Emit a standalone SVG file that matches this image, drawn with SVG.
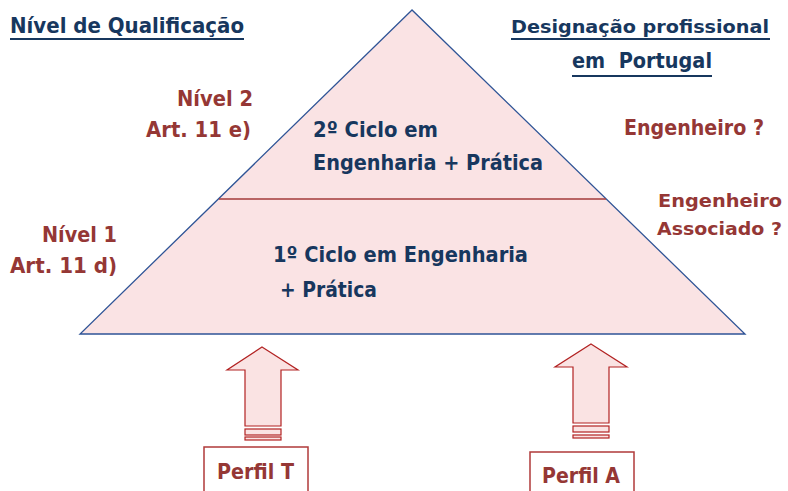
<svg xmlns="http://www.w3.org/2000/svg" width="788" height="491" viewBox="0 0 788 491">
<style>
text{font-family:"DejaVu Sans","Liberation Sans",sans-serif;font-weight:bold;font-size:21px}
.b{fill:#17375E}
.r{fill:#953735}
.s{font-size:18.5px}
.ul{stroke:#17375E;stroke-width:2}
.arr{fill:#FAE3E3;stroke:#B22222;stroke-width:1.2}
.box{fill:#FFFFFF;stroke:#B03A3A;stroke-width:1.5}
</style>
<rect width="788" height="491" fill="#FFFFFF"/>
<g id="pyramid">
<polygon points="412,10 80,334 745,334" fill="#FAE3E4" stroke="#2F5496" stroke-width="1.3"/>
<line x1="219" y1="199" x2="606" y2="199" stroke="#A33A3A" stroke-width="1.3"/>
<text class="b" x="313" y="137" textLength="125" lengthAdjust="spacingAndGlyphs">2º Ciclo em</text>
<text class="b" x="313" y="170" textLength="230" lengthAdjust="spacingAndGlyphs">Engenharia + Prática</text>
<text class="b" x="273" y="262" textLength="255" lengthAdjust="spacingAndGlyphs">1º Ciclo em Engenharia</text>
<text class="b" x="280" y="297" textLength="97" lengthAdjust="spacingAndGlyphs">+ Prática</text>
</g>
<g id="header-left">
<text class="b" x="10" y="33" textLength="234" lengthAdjust="spacingAndGlyphs">Nível de Qualificação</text>
<line class="ul" x1="10" y1="39" x2="244" y2="39"/>
</g>
<g id="header-right">
<text class="b s" x="511" y="33" textLength="258" lengthAdjust="spacingAndGlyphs">Designação profissional</text>
<line class="ul" x1="511" y1="39" x2="770" y2="39"/>
<text class="b" x="572" y="68" textLength="140" lengthAdjust="spacingAndGlyphs" xml:space="preserve" style="white-space:pre">em  Portugal</text>
<line class="ul" x1="572" y1="76" x2="712" y2="76"/>
</g>
<g id="nivel2">
<text class="r" x="177" y="106" textLength="76" lengthAdjust="spacingAndGlyphs">Nível 2</text>
<text class="r" x="146" y="137" textLength="105" lengthAdjust="spacingAndGlyphs">Art. 11 e)</text>
</g>
<g id="nivel1">
<text class="r" x="42" y="242" textLength="75" lengthAdjust="spacingAndGlyphs">Nível 1</text>
<text class="r" x="10" y="273" textLength="107" lengthAdjust="spacingAndGlyphs">Art. 11 d)</text>
</g>
<g id="engenheiro">
<text class="r" x="624" y="135" textLength="140" lengthAdjust="spacingAndGlyphs">Engenheiro ?</text>
</g>
<g id="engenheiro-associado">
<text class="r s" x="658" y="207" textLength="124" lengthAdjust="spacingAndGlyphs">Engenheiro</text>
<text class="r s" x="657" y="235" textLength="125" lengthAdjust="spacingAndGlyphs">Associado ?</text>
</g>
<g id="connectors">
<polygon class="arr" points="262,347 298,370 281,370 281,426 245,426 245,370 227,370"/>
<rect class="arr" x="245" y="429" width="36" height="6"/>
<rect class="arr" x="245" y="437" width="36" height="3"/>
<polygon class="arr" points="591,344 627,367 609,367 609,423 573,423 573,367 555,367"/>
<rect class="arr" x="573" y="426" width="36" height="6"/>
<rect class="arr" x="573" y="435" width="36" height="3"/>
</g>
<g id="perfil-t">
<rect class="box" x="204" y="447" width="104" height="50"/>
<text class="r" x="217" y="479" textLength="77" lengthAdjust="spacingAndGlyphs">Perfil T</text>
</g>
<g id="perfil-a">
<rect class="box" x="530" y="452" width="104" height="50"/>
<text class="r" x="542" y="483" textLength="78" lengthAdjust="spacingAndGlyphs">Perfil A</text>
</g>
</svg>
